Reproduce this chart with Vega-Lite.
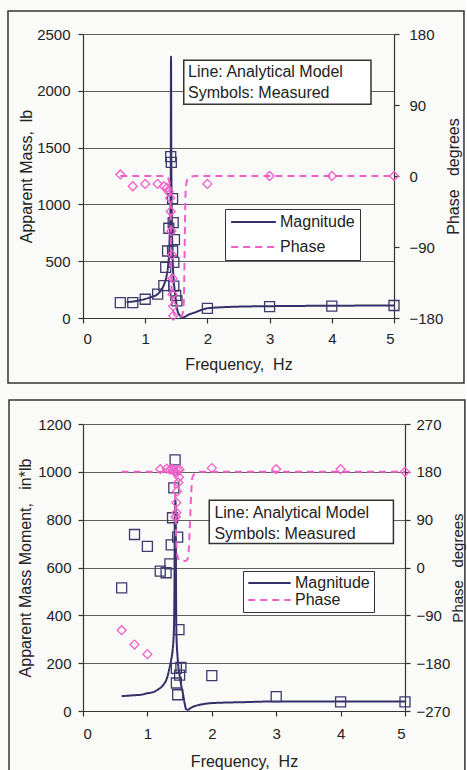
{
  "$schema": "https://vega.github.io/schema/vega-lite/v6.json",
  "background": "#fafaf8",
  "padding": {"left": 7, "top": 10, "right": 0, "bottom": 0},
  "spacing": 15,
  "config": {
    "view": {"stroke": null},
    "font": "Liberation Sans",
    "axis": {
      "labelFont": "Liberation Sans", "labelFontSize": 15, "labelColor": "#222",
      "titleFont": "Liberation Sans", "titleFontSize": 16, "titleFontWeight": "normal", "titleColor": "#222",
      "domainColor": "#333", "domainWidth": 1.2, "tickColor": "#333", "tickSize": 5, "tickWidth": 1.2,
      "gridColor": "#5f5f5f", "gridWidth": 1
    }
  },
  "datasets": {
    "top_mag_line": [
      {"f":0.7,"v":140},{"f":0.8,"v":145},{"f":0.9,"v":155},{"f":1.0,"v":168},{"f":1.1,"v":185},{"f":1.2,"v":210},{"f":1.25,"v":240},{"f":1.3,"v":290},{"f":1.34,"v":360},{"f":1.37,"v":470},{"f":1.39,"v":620},{"f":1.4,"v":800},{"f":1.41,"v":1200},{"f":1.415,"v":2300},{"f":1.42,"v":1400},{"f":1.43,"v":800},{"f":1.44,"v":550},{"f":1.45,"v":400},{"f":1.47,"v":260},{"f":1.5,"v":130},{"f":1.52,"v":62},{"f":1.56,"v":20},{"f":1.6,"v":3},{"f":1.65,"v":15},{"f":1.7,"v":30},{"f":1.79,"v":47},{"f":1.9,"v":70},{"f":2.0,"v":85},{"f":2.25,"v":95},{"f":2.5,"v":100},{"f":3.0,"v":104},{"f":4.0,"v":108},{"f":5.0,"v":110}
    ],
    "top_mag_meas": [
      {"f":0.6,"v":135},{"f":0.8,"v":135},{"f":1.0,"v":165},{"f":1.2,"v":210},{"f":1.3,"v":285},{"f":1.33,"v":445},{"f":1.36,"v":590},{"f":1.38,"v":790},{"f":1.41,"v":1420},{"f":1.42,"v":1370},{"f":1.44,"v":1050},{"f":1.45,"v":840},{"f":1.47,"v":690},{"f":1.46,"v":490},{"f":1.44,"v":590},{"f":1.46,"v":280},{"f":1.49,"v":200},{"f":1.51,"v":150},{"f":2.0,"v":85},{"f":3.0,"v":100},{"f":4.0,"v":105},{"f":5.0,"v":110}
    ],
    "top_ph_line": [
      {"f":0.6,"p":0},{"f":1.3,"p":0},{"f":1.36,"p":-2},{"f":1.39,"p":-8},{"f":1.4,"p":-20},{"f":1.41,"p":-50},{"f":1.415,"p":-90},{"f":1.42,"p":-130},{"f":1.43,"p":-160},{"f":1.45,"p":-172},{"f":1.5,"p":-178},{"f":1.58,"p":-178},{"f":1.6,"p":-175},{"f":1.62,"p":-160},{"f":1.635,"p":-90},{"f":1.645,"p":-30},{"f":1.66,"p":-10},{"f":1.7,"p":-2},{"f":1.8,"p":0},{"f":5.0,"p":0}
    ],
    "top_ph_meas": [
      {"f":0.6,"p":2},{"f":0.8,"p":-13},{"f":1.0,"p":-10},{"f":1.2,"p":-10},{"f":1.3,"p":-13},{"f":1.35,"p":-15},{"f":1.38,"p":-20},{"f":1.4,"p":-28},{"f":1.41,"p":-45},{"f":1.42,"p":-70},{"f":1.43,"p":-100},{"f":1.44,"p":-130},{"f":1.44,"p":-150},{"f":1.45,"p":-165},{"f":1.45,"p":-177},{"f":2.0,"p":-10},{"f":3.0,"p":0},{"f":4.0,"p":0},{"f":5.0,"p":0}
    ],
    "bot_mag_line": [
      {"f":0.6,"v":62},{"f":0.8,"v":66},{"f":0.9,"v":68},{"f":1.0,"v":74},{"f":1.1,"v":80},{"f":1.16,"v":89},{"f":1.2,"v":96},{"f":1.25,"v":110},{"f":1.3,"v":135},{"f":1.34,"v":175},{"f":1.37,"v":215},{"f":1.39,"v":250},{"f":1.41,"v":330},{"f":1.42,"v":500},{"f":1.425,"v":800},{"f":1.435,"v":880},{"f":1.44,"v":820},{"f":1.445,"v":500},{"f":1.45,"v":330},{"f":1.47,"v":220},{"f":1.5,"v":150},{"f":1.53,"v":100},{"f":1.55,"v":75},{"f":1.58,"v":30},{"f":1.6,"v":8},{"f":1.63,"v":5},{"f":1.68,"v":14},{"f":1.73,"v":20},{"f":1.85,"v":28},{"f":2.0,"v":33},{"f":2.5,"v":37},{"f":3.0,"v":40},{"f":4.0,"v":40},{"f":5.0,"v":40}
    ],
    "bot_mag_meas": [
      {"f":0.6,"v":515},{"f":0.8,"v":738},{"f":1.0,"v":688},{"f":1.2,"v":585},{"f":1.29,"v":578},{"f":1.35,"v":615},{"f":1.37,"v":695},{"f":1.39,"v":808},{"f":1.41,"v":933},{"f":1.43,"v":1050},{"f":1.47,"v":727},{"f":1.49,"v":340},{"f":1.45,"v":178},{"f":1.52,"v":182},{"f":1.5,"v":150},{"f":1.45,"v":117},{"f":1.47,"v":68},{"f":2.0,"v":148},{"f":3.0,"v":60},{"f":4.0,"v":38},{"f":5.0,"v":38}
    ],
    "bot_ph_line": [
      {"f":0.6,"p":180},{"f":1.3,"p":180},{"f":1.38,"p":179},{"f":1.41,"p":175},{"f":1.425,"p":150},{"f":1.435,"p":110},{"f":1.445,"p":60},{"f":1.46,"p":25},{"f":1.49,"p":14},{"f":1.52,"p":12},{"f":1.58,"p":12},{"f":1.62,"p":15},{"f":1.64,"p":30},{"f":1.66,"p":80},{"f":1.68,"p":140},{"f":1.7,"p":170},{"f":1.75,"p":178},{"f":1.8,"p":180},{"f":5.0,"p":180}
    ],
    "bot_ph_meas": [
      {"f":0.6,"p":-118},{"f":0.8,"p":-145},{"f":1.0,"p":-163},{"f":1.2,"p":185},{"f":1.3,"p":186},{"f":1.35,"p":184},{"f":1.38,"p":186},{"f":1.4,"p":183},{"f":1.43,"p":181},{"f":1.45,"p":178},{"f":1.47,"p":183},{"f":1.5,"p":184},{"f":1.49,"p":170},{"f":1.48,"p":160},{"f":1.46,"p":143},{"f":1.45,"p":122},{"f":1.45,"p":103},{"f":1.44,"p":95},{"f":2.0,"p":187},{"f":3.0,"p":185},{"f":4.0,"p":185},{"f":5.0,"p":180}
    ]
  },
  "vconcat": [
    {
      "width": 311, "height": 284,
      "layer": [
        {
          "layer": [
            {
              "data": {"name": "top_mag_line"},
              "mark": {"type": "line", "strokeWidth": 2, "interpolate": "monotone"},
              "encoding": {
                "x": {"field": "f", "type": "quantitative", "scale": {"domain": [0, 5], "nice": false, "zero": false},
                      "axis": {"title": "Frequency,\u00a0 Hz", "values": [0,1,2,3,4,5], "format": "d", "grid": false, "labelPadding": 8, "titlePadding": 10}},
                "y": {"field": "v", "type": "quantitative", "scale": {"domain": [0, 2500], "nice": false},
                      "axis": {"title": "Apparent Mass,\u00a0 lb", "values": [0,500,1000,1500,2000,2500], "format": "d", "grid": true, "labelPadding": 8, "titlePadding": 2}},
                "color": {"datum": "Magnitude", "type": "nominal", "scale": {"domain": ["Magnitude", "Phase"], "range": ["#34306a", "#ee5fc8"]},
                          "legend": {"title": null, "orient": "none", "legendX": 142, "legendY": 175, "fillColor": "white", "strokeColor": "#333", "padding": 5, "rowPadding": 9, "clipHeight": 16, "symbolSize": 2000, "symbolStrokeWidth": 2, "labelFontSize": 16, "labelFont": "Liberation Sans", "labelColor": "#222", "labelOffset": 3}},
                "strokeDash": {"datum": "Magnitude", "type": "nominal", "scale": {"domain": ["Magnitude", "Phase"], "range": [[1, 0], [7, 5]]},
                          "legend": {"title": null, "orient": "none", "legendX": 142, "legendY": 175, "fillColor": "white", "strokeColor": "#333", "padding": 5, "rowPadding": 9, "clipHeight": 16, "symbolSize": 2000, "symbolStrokeWidth": 2, "labelFontSize": 16, "labelFont": "Liberation Sans", "labelColor": "#222", "labelOffset": 3}}
              }
            },
            {
              "data": {"values": [{}]},
              "mark": {"type": "rect", "fill": "transparent", "stroke": "#333", "strokeWidth": 1.5, "clip": false},
              "encoding": {
                "x": {"datum": -1.206, "type": "quantitative"},
                "x2": {"datum": 6.125},
                "y": {"datum": 2702, "type": "quantitative"},
                "y2": {"datum": -572}
              }
            },
            {
              "data": {"name": "top_mag_meas"},
              "mark": {"type": "point", "shape": "square", "filled": false, "size": 100, "stroke": "#3d3a6e", "strokeWidth": 1.3, "opacity": 1},
              "encoding": {
                "x": {"field": "f", "type": "quantitative"},
                "y": {"field": "v", "type": "quantitative"}
              }
            },
            {
              "data": {"values": [{}]},
              "mark": {"type": "rect", "fill": "white", "stroke": "#333", "strokeWidth": 1.5},
              "encoding": {
                "x": {"datum": 1.62, "type": "quantitative"},
                "x2": {"datum": 4.63},
                "y": {"datum": 2268, "type": "quantitative"},
                "y2": {"datum": 1881}
              }
            },
            {
              "data": {"values": [{}]},
              "mark": {"type": "text", "text": ["Line: Analytical Model", "Symbols: Measured"], "align": "left", "baseline": "middle", "fontSize": 16, "lineHeight": 21, "font": "Liberation Sans", "color": "#222"},
              "encoding": {
                "x": {"datum": 1.69, "type": "quantitative"},
                "y": {"datum": 2168, "type": "quantitative"}
              }
            }
          ]
        },
        {
          "layer": [
            {
              "data": {"name": "top_ph_line"},
              "mark": {"type": "line", "strokeWidth": 2, "interpolate": "monotone"},
              "encoding": {
                "x": {"field": "f", "type": "quantitative"},
                "y": {"field": "p", "type": "quantitative", "scale": {"domain": [-180, 180], "nice": false},
                      "axis": {"orient": "right", "title": "Phase\u00a0\u00a0 degrees", "values": [-180,-90,0,90,180], "grid": false, "labelPadding": 10, "titlePadding": 3, "titleAngle": 270, "titleBaseline": "top"}},
                "color": {"datum": "Phase", "type": "nominal", "scale": {"domain": ["Magnitude", "Phase"], "range": ["#34306a", "#ee5fc8"]},
                          "legend": {"title": null, "orient": "none", "legendX": 142, "legendY": 175, "fillColor": "white", "strokeColor": "#333", "padding": 5, "rowPadding": 9, "clipHeight": 16, "symbolSize": 2000, "symbolStrokeWidth": 2, "labelFontSize": 16, "labelFont": "Liberation Sans", "labelColor": "#222", "labelOffset": 3}},
                "strokeDash": {"datum": "Phase", "type": "nominal", "scale": {"domain": ["Magnitude", "Phase"], "range": [[1, 0], [7, 5]]},
                          "legend": {"title": null, "orient": "none", "legendX": 142, "legendY": 175, "fillColor": "white", "strokeColor": "#333", "padding": 5, "rowPadding": 9, "clipHeight": 16, "symbolSize": 2000, "symbolStrokeWidth": 2, "labelFontSize": 16, "labelFont": "Liberation Sans", "labelColor": "#222", "labelOffset": 3}}
              }
            },
            {
              "data": {"name": "top_ph_meas"},
              "mark": {"type": "point", "shape": "diamond", "filled": false, "size": 80, "stroke": "#ee5fc8", "strokeWidth": 1.3, "opacity": 1},
              "encoding": {
                "x": {"field": "f", "type": "quantitative"},
                "y": {"field": "p", "type": "quantitative"}
              }
            }
          ]
        }
      ],
      "resolve": {"scale": {"y": "independent"}, "axis": {"y": "independent"}}
    },
    {
      "width": 322, "height": 287,
      "layer": [
        {
          "layer": [
            {
              "data": {"name": "bot_mag_line"},
              "mark": {"type": "line", "strokeWidth": 2, "interpolate": "monotone"},
              "encoding": {
                "x": {"field": "f", "type": "quantitative", "scale": {"domain": [0, 5], "nice": false, "zero": false},
                      "axis": {"title": "Frequency,\u00a0 Hz", "values": [0,1,2,3,4,5], "format": "d", "grid": false, "labelPadding": 10, "titlePadding": 12}},
                "y": {"field": "v", "type": "quantitative", "scale": {"domain": [0, 1200], "nice": false},
                      "axis": {"title": "Apparent Mass Moment,\u00a0\u00a0 in*lb", "values": [0,200,400,600,800,1000,1200], "format": "d", "grid": true, "labelPadding": 7, "titlePadding": 4}},
                "color": {"datum": "Magnitude", "type": "nominal", "scale": {"domain": ["Magnitude", "Phase"], "range": ["#34306a", "#ee5fc8"]},
                          "legend": {"title": null, "orient": "none", "legendX": 160, "legendY": 147, "fillColor": "white", "strokeColor": "#333", "padding": 4, "rowPadding": 1, "clipHeight": 16, "symbolSize": 1800, "symbolStrokeWidth": 2, "labelFontSize": 16, "labelFont": "Liberation Sans", "labelColor": "#222", "labelOffset": 3}},
                "strokeDash": {"datum": "Magnitude", "type": "nominal", "scale": {"domain": ["Magnitude", "Phase"], "range": [[1, 0], [7, 5]]},
                          "legend": {"title": null, "orient": "none", "legendX": 160, "legendY": 147, "fillColor": "white", "strokeColor": "#333", "padding": 4, "rowPadding": 1, "clipHeight": 16, "symbolSize": 1800, "symbolStrokeWidth": 2, "labelFontSize": 16, "labelFont": "Liberation Sans", "labelColor": "#222", "labelOffset": 3}}
              }
            },
            {
              "data": {"values": [{}]},
              "mark": {"type": "rect", "fill": "transparent", "stroke": "#333", "strokeWidth": 1.5, "clip": false},
              "encoding": {
                "x": {"datum": -1.149, "type": "quantitative"},
                "x2": {"datum": 5.93},
                "y": {"datum": 1300, "type": "quantitative"},
                "y2": {"datum": -250}
              }
            },
            {
              "data": {"name": "bot_mag_meas"},
              "mark": {"type": "point", "shape": "square", "filled": false, "size": 100, "stroke": "#3d3a6e", "strokeWidth": 1.3, "opacity": 1},
              "encoding": {
                "x": {"field": "f", "type": "quantitative"},
                "y": {"field": "v", "type": "quantitative"}
              }
            },
            {
              "data": {"values": [{}]},
              "mark": {"type": "rect", "fill": "white", "stroke": "#333", "strokeWidth": 1.5},
              "encoding": {
                "x": {"datum": 1.96, "type": "quantitative"},
                "x2": {"datum": 4.82},
                "y": {"datum": 881, "type": "quantitative"},
                "y2": {"datum": 700}
              }
            },
            {
              "data": {"values": [{}]},
              "mark": {"type": "text", "text": ["Line: Analytical Model", "Symbols: Measured"], "align": "left", "baseline": "middle", "fontSize": 16, "lineHeight": 21, "font": "Liberation Sans", "color": "#222"},
              "encoding": {
                "x": {"datum": 2.04, "type": "quantitative"},
                "y": {"datum": 828, "type": "quantitative"}
              }
            }
          ]
        },
        {
          "layer": [
            {
              "data": {"name": "bot_ph_line"},
              "mark": {"type": "line", "strokeWidth": 2, "interpolate": "monotone"},
              "encoding": {
                "x": {"field": "f", "type": "quantitative"},
                "y": {"field": "p", "type": "quantitative", "scale": {"domain": [-270, 270], "nice": false},
                      "axis": {"orient": "right", "title": "Phase\u00a0\u00a0 degrees", "values": [-270,-180,-90,0,90,180,270], "grid": false, "labelPadding": 6, "titlePadding": 1, "titleFontSize": 15, "titleAngle": 270, "titleBaseline": "top"}},
                "color": {"datum": "Phase", "type": "nominal", "scale": {"domain": ["Magnitude", "Phase"], "range": ["#34306a", "#ee5fc8"]},
                          "legend": {"title": null, "orient": "none", "legendX": 160, "legendY": 147, "fillColor": "white", "strokeColor": "#333", "padding": 4, "rowPadding": 1, "clipHeight": 16, "symbolSize": 1800, "symbolStrokeWidth": 2, "labelFontSize": 16, "labelFont": "Liberation Sans", "labelColor": "#222", "labelOffset": 3}},
                "strokeDash": {"datum": "Phase", "type": "nominal", "scale": {"domain": ["Magnitude", "Phase"], "range": [[1, 0], [7, 5]]},
                          "legend": {"title": null, "orient": "none", "legendX": 160, "legendY": 147, "fillColor": "white", "strokeColor": "#333", "padding": 4, "rowPadding": 1, "clipHeight": 16, "symbolSize": 1800, "symbolStrokeWidth": 2, "labelFontSize": 16, "labelFont": "Liberation Sans", "labelColor": "#222", "labelOffset": 3}}
              }
            },
            {
              "data": {"name": "bot_ph_meas"},
              "mark": {"type": "point", "shape": "diamond", "filled": false, "size": 80, "stroke": "#ee5fc8", "strokeWidth": 1.3, "opacity": 1},
              "encoding": {
                "x": {"field": "f", "type": "quantitative"},
                "y": {"field": "p", "type": "quantitative"}
              }
            }
          ]
        }
      ],
      "resolve": {"scale": {"y": "independent"}, "axis": {"y": "independent"}}
    }
  ],
  "resolve": {
    "scale": {"x": "independent", "y": "independent", "color": "independent", "strokeDash": "independent"},
    "legend": {"color": "independent", "strokeDash": "independent"}
  }
}
